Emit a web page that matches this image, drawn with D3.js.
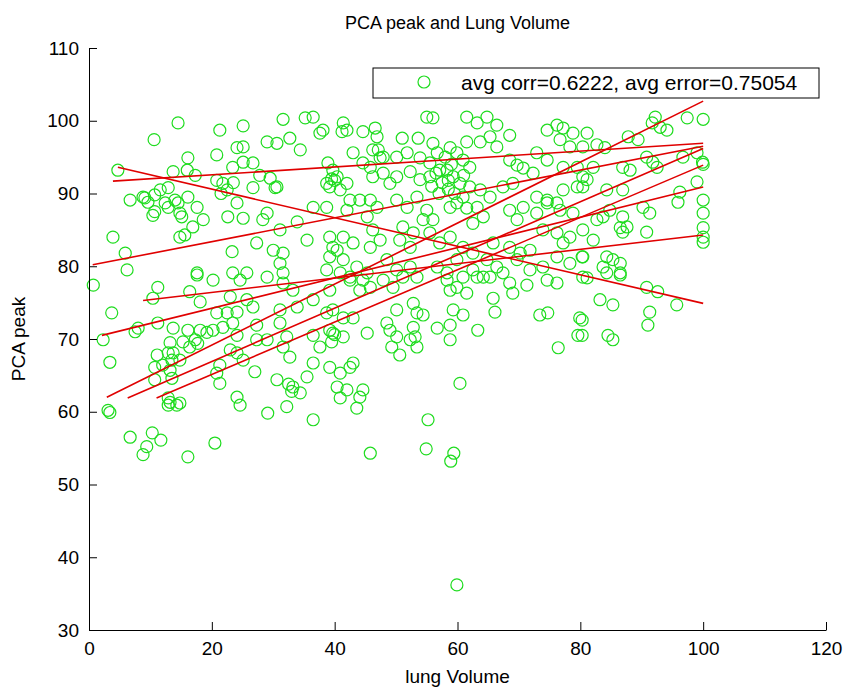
<!DOCTYPE html>
<html>
<head>
<meta charset="utf-8">
<script src="https://cdn.jsdelivr.net/npm/d3@7"></script>
<style>
    body { margin: 0; background: #fff; }
    text { font-family: "Liberation Sans", Arial, sans-serif; fill: #000; }
</style>
</head>
<body>
<div id="chartDiv"></div>
<script>
var width = 848;
var height = 693;
var margin = { top: 48, right: 22, bottom: 63, left: 89 };

var titleText = "PCA peak and Lung Volume";
var xAxisLabelHeader = "lung Volume";
var yAxisLabelHeader = "PCA peak";
var legendText = "avg corr=0.6222, avg error=0.75054";

var xTicks = [0, 20, 40, 60, 80, 100, 120];
var yTicks = [30, 40, 50, 60, 70, 80, 90, 100, 110];

// [lung volume, PCA peak]
var scatterPoints = [
    [14.5,99.7],[10.6,97.4],[21.3,98.7],[25.1,99.3],[31.6,100.2],[35.2,100.4],[36.5,100.5],[20.8,95.3],[16.1,94.9],[4.7,93.2],
    [24.1,96.3],[25.1,96.4],[29,97.1],[30.6,96.9],[32.7,97.6],[34.4,96],[37.6,98.3],[38.1,98.7],[13.7,93],[16,93.2],
    [17.3,92.5],[20.8,91.8],[21.8,91.4],[23.4,93.6],[25.1,94.3],[26.7,94.2],[27.8,92.5],[29.5,92.1],[30.6,90.9],[6.7,89.1],
    [9.1,89.4],[10.7,89.8],[11.6,90.5],[12.9,90.8],[10.4,87],[14.8,87.3],[14.5,88.7],[16.1,89.5],[18.6,86.4],[17.6,88.1],
    [3.9,84],[5.9,81.8],[6.2,79.5],[14.8,84],[16.9,85.4],[23.3,82],[29,87.3],[28.3,86.4],[22.6,86.8],[25.1,86.6],
    [24.1,88.7],[26.7,90.8],[30.3,90.8],[31.1,85],[33.9,86.1],[35.5,83.6],[30,82.2],[31.6,81.8],[31.1,80.4],[31.6,79.1],
    [38.7,88.1],[39.2,84],[39.7,82.6],[39.2,81.3],[38.7,79.5],[36.5,88.1],[38.7,91.4],[39.2,90.9],[39.7,93.2],[38.9,94.2],
    [27.3,83.2],[23.4,79.1],[25.7,79.1],[17.6,79.1],[8.8,89.5],[9.6,88.8],[10.7,87.5],[12.4,88.7],[14,89.1],[12.9,88.1],
    [15.1,86.8],[15.6,84.3],[22.5,90.5],[23.5,91.5],[21.5,90],[39.5,92],[40,91.8],
    [0.7,77.4],[11.2,77.1],[10.4,75.6],[17.6,78.8],[16.4,76.5],[18.1,75.1],[3.7,73.6],[8,71.5],[7.5,71],[11.2,72.2],
    [2.3,69.9],[3.4,66.8],[11.1,67.8],[10.7,66.1],[13.2,69.5],[13.7,68.1],[14.8,67.1],[15.3,69.6],[16.4,68.9],[16.1,71.2],
    [18.1,71.2],[19.2,70.9],[12,66.4],[13.2,65.7],[14.3,60.9],[14.8,61.2],[13.2,61.3],[3.1,60.2],[3.4,59.9],
    [6.7,56.5],[10.3,57.1],[11.7,56.1],[9.4,55.2],[8.8,54.1],[16.1,53.8],[20.5,55.7],
    [20.8,73.6],[22.5,73.6],[24.1,73.7],[20.2,71.2],[21.8,71.6],[23.4,72.2],[24.1,70.5],[23,68.5],[24.1,68.1],[25.1,67.1],
    [21.3,66.4],[20.8,65.3],[21.3,63.9],[27.3,71.9],[29,69.9],[27.3,69.9],[27,65.5],[29.1,59.8],[24.6,60.9],[24.1,62],
    [31.1,72.2],[32.2,70.3],[31.6,68.9],[32.7,67.5],[30.6,64.4],[33.2,63.4],[34.4,62.6],[32.2,60.7],[36.5,58.9],[35.5,64.8],
    [36.5,66.7],[37.6,68.9],[36.5,70.5],[39.2,71.2],[38.7,73.6],[39.7,74],[31.1,74],[33.9,74.4],[36.5,75.4],[39.2,76.7],
    [25.7,75.4],[26.7,74.4],[23,75.8],[29,78.5],[31.6,77.7],[33.2,76.7],[24.6,78.1],[20.2,78.1],
    [13.7,71.5],[12.9,68.1],[13.5,67.1],[17.7,69.4],[17.3,69.9],[13.5,64.6],[10.7,64.4],[12.9,61.9],[12.9,60.9],
    [32.5,63.8],[33,62.8],
    [41.4,99.7],[42,98.7],[41.2,98.5],[44.6,98.5],[46.6,99],[46.9,97.8],[46.2,96],[47.1,96],[47.4,94.9],[51,97.6],
    [53.6,97.6],[56,96.9],[56.7,95.6],[55,100.5],[56,100.4],[61.5,100.5],[63.2,99.7],[64.8,100.5],[66.4,99.4],[68.5,98],
    [61.5,97.1],[63.7,97.1],[65.3,97.8],[66.4,96.4],[74.6,98.7],[76.2,99.4],[77.2,99],[78.8,98.3],[76.7,97.4],[78.3,96.4],
    [80.4,96.4],[81.1,98.3],
    [43,95.6],[44.6,94.2],[45.8,93.6],[47.9,95],[50.1,95],[51.8,95.6],[53.9,94.9],[55.5,94.2],[58.8,96.3],[59.9,95.6],
    [60.9,94.6],[62,93.6],[68.5,94.6],[69.7,93.9],[70.7,93.5],[72.3,92.8],[72.9,95.6],[74.6,94.6],[77.2,93.6],[79.5,93.6],
    [80.4,92.3],
    [57.5,91.5],[58.5,90.6],[59.5,90],[57,90],[61,92.5],[56.5,92.8],[59,94],[58,95],[55.8,91],[61.5,88],[58.5,91.8],
    [40.4,92.3],[42,91.4],[40.9,90.5],[42.5,89.1],[44.1,89.1],[42,87.7],[46.2,92.3],[47.9,92.8],[49,91.4],[50.1,92.3],
    [52.3,93],[53.9,91.9],[55.5,92.3],[57.1,93.2],[58.3,93.2],[59.3,92.3],[60.4,91.4],[62,90.9],[63.7,90.5],[65.3,89.5],
    [67.4,90.9],[69,91.4],[72.9,89.5],[74.6,89.1],[76.2,88.7],[77.2,90.5],[79.5,90.9],
    [45.8,89.1],[46.9,88.1],[45.3,86.8],[50.1,89.1],[51.8,88.1],[53.4,89.5],[55,87.7],[56,86.4],[54.4,86.4],[58.8,88.1],
    [59.9,88.7],[60.9,89.5],[63.2,88.1],[64.2,86.8],[62.5,85.9],[68.5,87.7],[70.7,88.1],[69.7,86.4],[72.9,87.3],[74.6,88.7],
    [76.7,87.7],[78.8,87.3],
    [41.4,84],[43,83.2],[40.4,82.2],[46.2,85],[47.4,83.6],[45.8,82.6],[51.1,85.4],[52.8,84.6],[50.6,83.6],[52.3,82.6],
    [55.5,84.6],[57.1,83.2],[58.8,84],[60.9,82.6],[62.5,81.8],[64.8,80.9],[65.8,83.2],[68.5,82.6],[70.2,81.8],[71.8,82.2],
    [73.9,85],[76.2,84.6],[77.2,83.2],[78.3,84],[80.4,85],
    [41.4,80.9],[43.6,79.9],[45.3,79.1],[42.5,78.5],[48.5,80.9],[50.1,79.5],[52.3,79.9],[53.4,78.5],[56.7,79.9],[58.3,79.1],
    [59.9,80.9],[62.5,79.5],[64.2,78.5],[66.4,79.9],[67.4,79.1],[69.7,80.9],[71.8,79.5],[73.9,79.9],[76.2,81.3],[78.3,80.4],
    [80.4,81.3],
    [40.9,79.1],[42.5,78.1],[44.6,78.1],[45.8,77.1],[44.1,76.7],[47.9,78.1],[49.5,77.1],[51.1,78.5],[58.3,78.1],[58.8,76.7],
    [59.9,77.1],[61.5,76.3],[60.9,78.5],[63.2,78.5],[65.3,78.5],[65.8,75.6],[66.1,73.7],[68.5,77.7],[69,76.3],[71.3,77.4],
    [74.6,78.1],[76.2,77.7],[80.4,78.5],[73.4,73.3],[74.7,73.6],[79.9,72.9],[79.6,70.5],[76.4,68.8],[41.4,72.9],[43,72.9],
    [39.7,70.8],[41.4,70.3],[45.3,70.8],[50.1,74],[52.8,74.9],[53.4,73.6],[54.4,73.3],[48.5,72.2],[49,71.2],[50.1,70.3],
    [49.3,68.9],[50.6,67.8],[52.8,71.6],[53.1,70.3],[53.4,68.9],[52.3,69.9],[56.7,71.5],[58.8,71.9],[58.8,69.9],[59.3,74],
    [60.9,73.3],[63.3,71.2],[39.2,66.1],[40.9,65.3],[42.5,66.1],[43,66.7],[40.4,63.4],[42,63],[44.6,63],[44.1,62],
    [40.9,61.9],[43.6,60.5],[60.4,63.9],[55.2,58.9],[45.8,54.3],[54.9,54.9],[58.9,53.2],[59.4,54.3],[59.9,36.2],
    [40,70.6],[39.5,69.6],
    [92.2,100.5],[91.7,99.7],[93,99.1],[94.1,98.7],[97.4,100.4],[100,100.2],[87.8,97.8],[89.4,97.4],[82.7,96.7],[84,96.3],
    [86.9,93.6],[88.1,93.2],[90.8,95],[91.8,94.3],[92.5,93.6],[96.7,95],[99,95.6],[99.9,94.3],[100,94],[82.1,93.6],
    [81.1,91.9],[80.4,90.9],[84.3,90.5],[86.9,90.5],[99,91.6],[96.2,90.2],[95.9,88.8],[100,89.1],[100,87.3],[100,85.3],
    [100,84],[100,83.3],[84.8,87.7],[83.7,86.8],[82.7,86.4],[86.9,86.8],[87.6,85.4],[86.5,85.3],[86.9,84.7],[90.2,88.1],
    [91.3,87.3],[90.8,84.7],[82.1,83.6],[80.3,81.3],[84.3,81.3],[85.3,80.9],[86.5,80.4],[83.7,79.9],[86.5,79.1],
    [81.1,78.4],[84.3,79.1],[86.5,78.8],[83.2,75.4],[85.3,74.7],[90.8,77.1],[92.6,76.5],[95.7,74.7],[91.3,73.7],[91,71.9],
    [80.3,72.6],[80.3,70.5],[84.5,70.5],[85.3,69.9]
];

// fitted lines: [x start, y start, x end, y end]
var fitLines = [
    [2.9, 62.0, 100, 102.7],
    [6.3, 61.9, 100, 96.2],
    [11.0, 61.9, 100, 93.9],
    [2.1, 70.5, 100, 90.9],
    [0.6, 80.2, 100, 96.5],
    [3.9, 91.7, 100, 96.9],
    [4.7, 93.6, 100, 74.9],
    [8.8, 75.3, 100, 84.3]
];

var circleRadius = 6;
var chart;
var chartWidth = width - margin.left - margin.right;
var chartHeight = height - margin.top - margin.bottom;

var x = d3.scaleLinear().domain([0, 120]).range([0, chartWidth]);
var y = d3.scaleLinear().domain([30, 110]).range([chartHeight, 0]);

init();

function init() {
    chart = d3.select("#chartDiv").append("svg")
        .attr("width", width)
        .attr("height", height);

    chart.plotArea = chart.append("g")
        .attr("transform", "translate(" + margin.left + "," + margin.top + ")");

    drawDots();
    drawLines();
    createAxes();
    drawLegend();
}

function createAxes() {
    chart.xAxis = d3.axisBottom(x)
        .tickValues(xTicks)
        .tickSizeInner(-8)
        .tickSizeOuter(0)
        .tickPadding(12);

    var gx = chart.append("g")
        .attr("class", "x axis")
        .attr("transform", "translate(" + margin.left + "," + (margin.top + chartHeight) + ")")
        .call(chart.xAxis);

    chart.yAxis = d3.axisLeft(y)
        .tickValues(yTicks)
        .tickSizeInner(-8)
        .tickSizeOuter(0)
        .tickPadding(10);

    var gy = chart.append("g")
        .attr("class", "y axis")
        .attr("transform", "translate(" + margin.left + "," + margin.top + ")")
        .call(chart.yAxis);

    [gx, gy].forEach(function(g) {
        g.select(".domain").attr("stroke", "#000").attr("stroke-width", 1);
        g.selectAll(".tick line").attr("stroke", "#000");
        g.selectAll(".tick text")
            .style("font-size", "19px")
            .style("font-family", "'Liberation Sans', Arial, sans-serif");
    });

    // x axis header label
    chart.append("text")
        .style("font-size", "19px")
        .attr("text-anchor", "middle")
        .attr("x", margin.left + chartWidth / 2)
        .attr("y", 683)
        .text(xAxisLabelHeader);

    // y axis header label
    chart.append("text")
        .style("font-size", "19px")
        .attr("text-anchor", "middle")
        .attr("transform", "translate(25," + (margin.top + chartHeight / 2) + ") rotate(-90)")
        .text(yAxisLabelHeader);

    // title
    chart.append("text")
        .style("font-size", "18px")
        .attr("text-anchor", "middle")
        .attr("x", margin.left + chartWidth / 2)
        .attr("y", 29)
        .text(titleText);
}

function drawDots() {
    chart.plotArea.selectAll(".dot")
        .data(scatterPoints)
        .enter().append("circle")
        .attr("class", "dot")
        .attr("cx", function(d) { return x(d[0]); })
        .attr("cy", function(d) { return y(d[1]); })
        .attr("r", circleRadius)
        .style("fill", "none")
        .style("stroke", "#1fdc1f")
        .style("stroke-width", 1.2);
}

function drawLines() {
    chart.plotArea.selectAll(".fit")
        .data(fitLines)
        .enter().append("line")
        .attr("class", "fit")
        .attr("x1", function(d) { return x(d[0]); })
        .attr("y1", function(d) { return y(d[1]); })
        .attr("x2", function(d) { return x(d[2]); })
        .attr("y2", function(d) { return y(d[3]); })
        .style("stroke", "#e00000")
        .style("stroke-width", 1.6);
}

function drawLegend() {
    var legend = chart.append("g")
        .attr("transform", "translate(373,68)");

    legend.append("rect")
        .attr("width", 446)
        .attr("height", 30)
        .style("fill", "#fff")
        .style("stroke", "#000")
        .style("stroke-width", 1);

    legend.append("circle")
        .attr("cx", 51)
        .attr("cy", 14)
        .attr("r", circleRadius)
        .style("fill", "none")
        .style("stroke", "#1fdc1f")
        .style("stroke-width", 1.2);

    legend.append("text")
        .style("font-size", "21px")
        .attr("x", 88)
        .attr("y", 22)
        .text(legendText);
}
</script>
</body>
</html>
